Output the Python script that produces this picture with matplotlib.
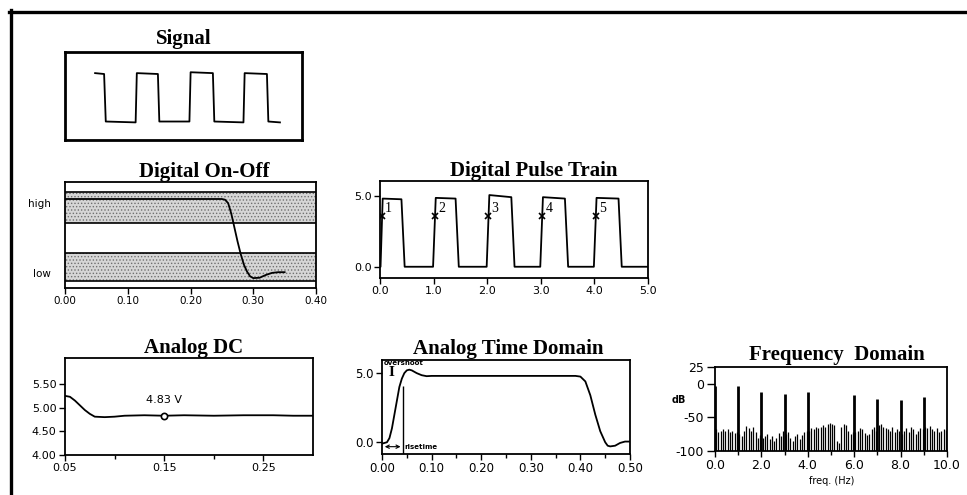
import numpy as np
import matplotlib.pyplot as plt
from matplotlib.lines import Line2D

W, H = 967, 495

# ---- data ----
# Signal (arbitrary time / level units)
sig_t = [1.27, 1.65, 1.72, 2.98, 3.03, 3.92, 3.98, 5.25, 5.30, 6.24, 6.30, 7.53, 7.58, 8.52, 8.58, 9.07]
sig_v = [0.76, 0.75, 0.21, 0.20, 0.76, 0.75, 0.21, 0.21, 0.77, 0.76, 0.21, 0.20, 0.76, 0.75, 0.21, 0.20]

# Digital On-Off (low = 0, high = 1)
onoff_t = [0.00, 0.25, 0.255, 0.26, 0.265, 0.27, 0.275, 0.28, 0.285, 0.29, 0.295, 0.30, 0.31, 0.32, 0.33, 0.34, 0.35]
onoff_v = [1.06, 1.06, 1.05, 1.00, 0.85, 0.65, 0.45, 0.27, 0.12, 0.02, -0.05, -0.075, -0.07, -0.03, 0.00, 0.01, 0.01]
high_band = (0.71, 1.16)
low_band = (-0.116, 0.29)

# Digital Pulse Train
pt_t = [0.00, 0.01, 0.05, 0.40, 0.46, 0.99, 1.04, 1.41, 1.47, 1.99, 2.04, 2.45, 2.51,
        2.99, 3.04, 3.45, 3.51, 3.99, 4.04, 4.45, 4.51, 5.00]
pt_v = [0.0, 0.0, 4.85, 4.80, 0.0, 0.0, 4.90, 4.85, 0.0, 0.0, 5.10, 4.95, 0.0,
        0.0, 4.95, 4.85, 0.0, 0.0, 4.90, 4.85, 0.0, 0.0]
pulse_t = [0.03, 1.02, 2.02, 3.03, 4.03]
pulse_v = 3.62
pulse_lbl = ['1', '2', '3', '4', '5']

# Analog DC
dc_t = [0.05, 0.055, 0.06, 0.065, 0.07, 0.075, 0.08, 0.09, 0.10, 0.11, 0.13, 0.15,
        0.17, 0.20, 0.23, 0.26, 0.28, 0.30]
dc_v = [5.25, 5.23, 5.15, 5.05, 4.95, 4.87, 4.81, 4.80, 4.81, 4.83, 4.84, 4.83,
        4.84, 4.83, 4.84, 4.84, 4.83, 4.83]
dc_mark = (0.15, 4.83)

# Analog Time Domain
at_t = [0.00, 0.01, 0.015, 0.02, 0.025, 0.03, 0.035, 0.04, 0.045, 0.05, 0.055, 0.06,
        0.07, 0.08, 0.09, 0.10, 0.20, 0.30, 0.39, 0.40, 0.41, 0.42, 0.43, 0.44,
        0.45, 0.455, 0.46, 0.47, 0.48, 0.49, 0.50]
at_v = [-0.1, 0.0, 0.3, 1.0, 2.0, 3.0, 4.0, 4.6, 5.0, 5.2, 5.25, 5.2,
        5.0, 4.85, 4.78, 4.8, 4.8, 4.8, 4.8, 4.75, 4.4, 3.4, 2.0, 0.8,
        0.0, -0.25, -0.3, -0.25, -0.05, 0.05, 0.05]
rise_time = 0.043
overshoot_mark = (0.02, 5.05)

# Frequency Domain (dB)
spike_f = [0.0, 1.0, 2.0, 3.0, 4.0, 6.0, 7.0, 8.0, 9.0]
spike_db = [-3, -3, -12, -15, -12, -16, -22, -24, -20]
noise_db = [-68, -72, -70, -67, -70, -68, -72, -70, -73, -72,
            -75, -78, -70, -63, -66, -70, -65, -72, -80, -76,
            -80, -77, -74, -82, -78, -85, -80, -73, -78, -70,
            -75, -72, -80, -85, -78, -74, -82, -76, -72, -70,
            -70, -66, -68, -64, -66, -65, -62, -65, -60, -58,
            -60, -62, -85, -88, -64, -60, -62, -70, -75, -72,
            -72, -70, -66, -68, -73, -76, -74, -68, -64, -70,
            -62, -60, -64, -66, -68, -70, -65, -72, -68, -70,
            -75, -70, -66, -72, -64, -67, -75, -70, -66, -68,
            -64, -66, -63, -68, -70, -66, -72, -70, -67, -69]
noise_f = np.linspace(0.05, 9.95, len(noise_db))


def box(x0, y0, x1, y1):
    return [x0 / W, 1 - y1 / H, (x1 - x0) / W, (y1 - y0) / H]


def title(x, y, s):
    fig.text(x / W, 1 - y / H, s, ha='center', va='baseline',
             family='Liberation Serif', weight='bold', size=15)


def style(ax, size=8):
    for sp in ax.spines.values():
        sp.set_linewidth(1.3)
    ax.tick_params(direction='out', length=4, width=1, labelsize=size, pad=2)
    ax.tick_params(which='minor', direction='out', length=3, width=1)


plt.rcParams['font.family'] = 'DejaVu Sans'
plt.rcParams['hatch.linewidth'] = 0.6
fig = plt.figure(figsize=(9.67, 4.95), dpi=100)

# outer frame (top and left edges only)
fig.add_artist(Line2D([9 / W, 1], [1 - 11.5 / H] * 2, color='black', lw=2.4))
fig.add_artist(Line2D([10.5 / W] * 2, [0, 1 - 10 / H], color='black', lw=2.4))

# Signal
ax = fig.add_axes(box(65, 52, 302, 140))
ax.plot(sig_t, sig_v, color='black', lw=1.3)
ax.set_xlim(0, 10)
ax.set_ylim(0, 1)
ax.set_xticks([])
ax.set_yticks([])
for sp in ax.spines.values():
    sp.set_linewidth(2)
title(184, 44, 'Signal')

# Digital On-Off
ax = fig.add_axes(box(65, 182, 316, 288))
for lo, hi in [high_band, low_band]:
    ax.axhspan(lo, hi, facecolor='#d6d6d6', edgecolor='#707070', hatch='.....', lw=0)
    ax.axhline(lo, color='black', lw=1.2)
    ax.axhline(hi, color='black', lw=1.2)
ax.plot(onoff_t, onoff_v, color='black', lw=1.3)
ax.set_xlim(0, 0.4)
ax.set_ylim(-0.217, 1.304)
ax.set_xticks([0, 0.1, 0.2, 0.3, 0.4])
ax.set_xticklabels(['0.00', '0.10', '0.20', '0.30', '0.40'])
ax.set_yticks([1, 0])
ax.set_yticklabels(['high', 'low'])
style(ax, 7.5)
ax.tick_params(axis='y', length=0, pad=10)
title(204, 177, 'Digital On-Off')

# Digital Pulse Train
ax = fig.add_axes(box(380, 181, 648, 278))
ax.plot(pt_t, pt_v, color='black', lw=1.3)
ax.plot(pulse_t, [pulse_v] * len(pulse_t), 'x', color='black', ms=4, mew=1.2)
for t, s in zip(pulse_t, pulse_lbl):
    ax.text(t + 0.06, pulse_v + 0.5, s, family='Liberation Serif', size=10,
            ha='left', va='center')
ax.set_xlim(0, 5)
ax.set_ylim(-0.8, 6.1)
ax.set_xticks([0, 1, 2, 3, 4, 5])
ax.set_xticklabels(['0.0', '1.0', '2.0', '3.0', '4.0', '5.0'])
ax.set_yticks([0, 5])
ax.set_yticklabels(['0.0', '5.0'])
style(ax, 8)
title(534, 176, 'Digital Pulse Train')

# Analog DC
ax = fig.add_axes(box(65, 358, 313, 455))
ax.plot(dc_t, dc_v, color='black', lw=1.3)
ax.plot(*dc_mark, 'o', ms=4.5, mfc='white', mec='black', mew=1.2)
ax.text(dc_mark[0], dc_mark[1] + 0.22, '%.2f V' % dc_mark[1], ha='center',
        va='bottom', size=8)
ax.set_xlim(0.05, 0.30)
ax.set_ylim(4.0, 6.05)
ax.set_xticks([0.05, 0.15, 0.25])
ax.set_xticklabels(['0.05', '0.15', '0.25'])
ax.set_xticks([0.10, 0.20], minor=True)
ax.set_yticks([4.0, 4.5, 5.0, 5.5])
ax.set_yticklabels(['4.00', '4.50', '5.00', '5.50'])
style(ax, 8)
title(194, 353, 'Analog DC')

# Analog Time Domain
ax = fig.add_axes(box(382, 360, 630, 454))
ax.plot(at_t, at_v, color='black', lw=1.3)
ax.vlines(rise_time, -0.85, 4.1, color='black', lw=1)
ax.annotate('', xy=(rise_time, -0.32), xytext=(0.0, -0.32),
            arrowprops=dict(arrowstyle='<->', lw=0.8, mutation_scale=6))
ax.text(rise_time + 0.003, -0.32, 'risetime', size=5, weight='bold', va='center')
ax.text(*overshoot_mark, 'I', family='Liberation Serif', weight='bold', size=11,
        ha='center', va='center')
ax.text(0.004, 5.55, 'overshoot', size=5, weight='bold', va='bottom')
ax.set_xlim(0, 0.5)
ax.set_ylim(-0.85, 5.95)
ax.set_xticks([0, 0.1, 0.2, 0.3, 0.4, 0.5])
ax.set_xticklabels(['0.00', '0.10', '0.20', '0.30', '0.40', '0.50'])
ax.set_xticks([0.05, 0.15, 0.25, 0.35, 0.45], minor=True)
ax.set_yticks([0, 5])
ax.set_yticklabels(['0.0', '5.0'])
style(ax, 8.5)
title(508, 354, 'Analog Time Domain')

# Frequency Domain
ax = fig.add_axes(box(715, 367, 947, 451))
ax.vlines(noise_f, -100, noise_db, color='black', lw=0.9)
ax.vlines(spike_f, -100, spike_db, color='black', lw=2)
ax.set_xlim(0, 10)
ax.set_ylim(-100, 25)
ax.set_xticks([0, 2, 4, 6, 8, 10])
ax.set_xticklabels(['0.0', '2.0', '4.0', '6.0', '8.0', '10.0'])
ax.set_xticks([1, 3, 5, 7, 9], minor=True)
ax.set_yticks([-100, -50, 0, 25])
ax.set_yticklabels(['-100', '-50', '0', '25'])
style(ax, 9)
ax.tick_params(axis='y', length=6)
fig.text(679 / W, 1 - 400 / H, 'dB', size=7, weight='bold', ha='center', va='center')
fig.text(832 / W, 1 - 481 / H, 'freq. (Hz)', size=7, ha='center', va='center')
title(837, 360, 'Frequency  Domain')

fig.savefig('out.png', dpi=100)
